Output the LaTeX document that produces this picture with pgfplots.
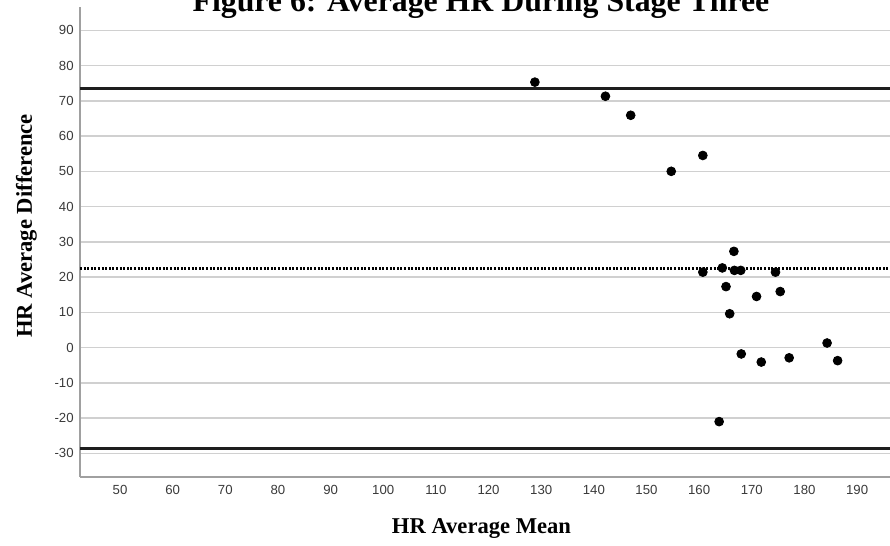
\documentclass[border=0pt]{standalone}
\usepackage{fontspec}
\setmainfont{Liberation Serif}
\newfontfamily\tickfont{Liberation Sans}
\usepackage{pgfplots}
\pgfplotsset{compat=1.18}
\definecolor{gridgray}{HTML}{D0D0D0}
\definecolor{axgray}{HTML}{A0A0A0}
\definecolor{ticktxt}{HTML}{3A3A3A}
\definecolor{limline}{HTML}{1E1E1E}

\begin{document}
\begin{tikzpicture}
\begin{axis}[
  scale only axis, width=405pt, height=235.15pt,
  xmin=42.4, xmax=196.25, ymin=-36.7, ymax=96.7,
  axis x line=bottom, axis y line=left,
  axis line style={-, axgray, line width=0.75pt},
  xtick={50,60,...,190}, ytick={-30,-20,...,90},
  major tick length=0pt,
  ymajorgrids, grid style={gridgray, line width=0.75pt},
  tick label style={font=\tickfont\fontsize{6.6}{8}\selectfont, text=ticktxt},
  /pgf/number format/assume math mode=true,
  xticklabel style={anchor=base, yshift=-8.7pt},
  yticklabel style={anchor=east, inner sep=0pt, xshift=-3pt},
  clip=false,
]
% limits of agreement and mean difference
\addplot[limline, line width=1.5pt] coordinates {(42.4,73.4) (196.25,73.4)};
\addplot[limline, line width=1.5pt] coordinates {(42.4,-28.5) (196.25,-28.5)};
\addplot[black, line width=1.3pt, dash pattern=on 1pt off 0.8pt] coordinates {(42.4,22.5) (196.25,22.5)};

% paired differences
\addplot[only marks, mark=*, mark size=2.2pt, black] coordinates {
  (128.8,75.3) (142.2,71.3) (147.0,65.9) (154.7,50.0) (160.7,54.5)
  (160.7,21.4) (164.4,22.6) (166.6,27.3) (166.7,21.9) (167.9,21.9)
  (174.5,21.4) (165.1,17.3) (170.9,14.5) (175.4,15.9) (165.8,9.6)
  (184.3,1.3) (168.0,-1.8) (171.8,-4.1) (177.1,-2.9) (186.3,-3.7)
  (163.8,-21.0)
};

\node[anchor=base, yshift=-2.4pt, font=\bfseries\fontsize{15.9}{18}\selectfont]
  at (rel axis cs:0.495,1) {Figure 6: Average HR During Stage Three};
\node[anchor=base, yshift=-28.5pt, font=\bfseries\fontsize{11.3}{13}\selectfont]
  at (rel axis cs:0.4957,0) {HR Average Mean};
\node[xshift=-24pt, rotate=90, anchor=base, font=\bfseries\fontsize{11.3}{13}\selectfont]
  at (rel axis cs:0,0.5337) {HR Average Difference};
\end{axis}
\pgfresetboundingbox
\path[use as bounding box] ([xshift=-40pt,yshift=-34.5pt]current axis.south west)
  rectangle ([yshift=3.35pt]current axis.north east);
\end{tikzpicture}
\end{document}
